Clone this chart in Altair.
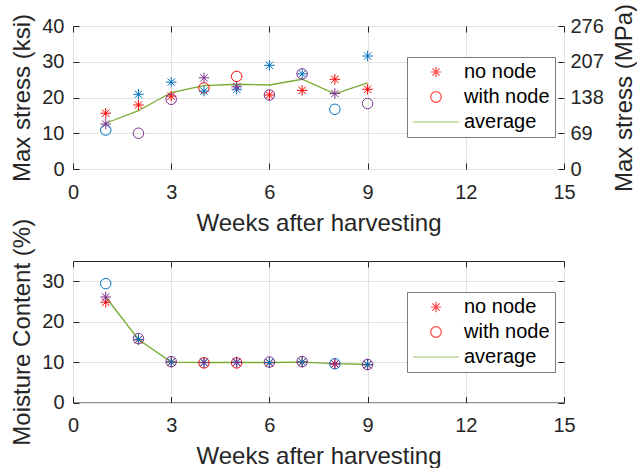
import altair as alt
import pandas as pd

# ---------------- data ----------------
weeks = [1, 2, 3, 4, 5, 6, 7, 8, 9]
samples = ["sample 1", "sample 2", "sample 3"]

# node condition of each sample per week
node_s1 = ["no node", "no node", "no node", "with node", "with node", "no node", "no node", "no node", "no node"]
node_s2 = ["with node", "no node", "no node", "no node", "no node", "no node", "no node", "with node", "no node"]
node_s3 = ["no node", "with node", "with node", "no node", "no node", "with node", "with node", "no node", "with node"]

# Max stress (ksi)
stress_s1 = [15.6, 17.9, 20.4, 22.7, 25.9, 20.7, 22.0, 25.1, 22.3]
stress_s2 = [10.9, 20.9, 24.3, 21.8, 22.3, 29.0, 26.6, 16.7, 31.6]
stress_s3 = [12.6, 10.0, 19.5, 25.5, 23.0, 20.7, 26.6, 21.1, 18.3]
stress_avg = [12.8, 16.3, 21.4, 23.3, 23.7, 23.5, 25.1, 21.0, 24.1]

# Moisture content (%)
moist_s1 = [24.8, 15.5, 10.0, 9.8, 9.8, 9.8, 10.0, 9.5, 9.3]
moist_s2 = [29.4, 15.6, 10.0, 9.9, 10.0, 9.9, 10.0, 9.6, 9.4]
moist_s3 = [26.1, 15.8, 10.1, 9.9, 9.9, 10.0, 10.1, 9.6, 9.4]
moist_avg = [26.1, 15.6, 10.0, 9.9, 9.9, 9.9, 10.0, 9.6, 9.4]

x_ticks = [0, 3, 6, 9, 12, 15]
stress_ticks = [0, 10, 20, 30, 40]
mpa_ticks = [0, 69, 138, 207, 276]
moist_ticks = [0, 10, 20, 30]
legend_labels = ["no node", "with node", "average"]

# ---------------- styles ----------------
FONT = "Liberation Sans"
TXT = "#262626"
GRID = "#e2e2e2"
RED, BLUE, PURPLE, GREEN = "#FF0000", "#0072BD", "#7E2F8E", "#77AC30"
ASTERISK = "M-1,0L1,0M0,-1L0,1M-0.7,-0.7L0.7,0.7M-0.7,0.7L0.7,-0.7"
# legend symbols (drawn in a 46px box)
L_AST = "M-0.23,0L0.23,0M0,-0.23L0,0.23M-0.16,-0.16L0.16,0.16M-0.16,0.16L0.16,-0.16"
L_CIR = "M0.23,0A0.23,0.23,0,1,1,-0.23,0A0.23,0.23,0,1,1,0.23,0Z"
L_LINE = "M-1,0L1,0"


def long_table(v1, v2, v3):
    rows = []
    for s, vals, nodes in zip(samples, [v1, v2, v3], [node_s1, node_s2, node_s3]):
        for w, v, n in zip(weeks, vals, nodes):
            rows.append({"week": w, "value": v, "sample": s, "node": n})
    return pd.DataFrame(rows)


stress_df = long_table(stress_s1, stress_s2, stress_s3)
moist_df = long_table(moist_s1, moist_s2, moist_s3)
stress_avg_df = pd.DataFrame({"week": weeks, "avg": stress_avg})
moist_avg_df = pd.DataFrame({"week": weeks, "avg": moist_avg})
legend_df = pd.DataFrame({"label": legend_labels})


def axis(orient, values, title=None, labels=True, grid=False, label_pad=8,
         title_pad=8, title_angle=None, title_baseline=None):
    kw = dict(orient=orient, values=values, offset=-6, tickSize=6, tickColor=TXT,
              tickWidth=1, domain=False, grid=grid, labels=labels, title=title)
    if grid:
        kw.update(gridColor=GRID, gridWidth=1)
    if labels:
        kw.update(labelFont=FONT, labelFontSize=20, labelColor=TXT,
                  labelPadding=label_pad, labelFlush=False)
    if title:
        kw.update(titleFont=FONT, titleFontSize=24, titleFontWeight="normal",
                  titleColor=TXT, titlePadding=title_pad)
    if title_angle is not None:
        kw["titleAngle"] = title_angle
    if title_baseline is not None:
        kw["titleBaseline"] = title_baseline
    return alt.Axis(**kw)


x_scale = alt.Scale(domain=[0, 15], nice=False)
color_pts = alt.Color("sample:N", scale=alt.Scale(domain=samples, range=[RED, BLUE, PURPLE]), legend=None)
shape_pts = alt.Shape("node:N", scale=alt.Scale(domain=["no node", "with node"], range=[ASTERISK, "circle"]), legend=None)


def legend_layer():
    leg = alt.Legend(title=None, orient="none", legendX=334, legendY=31,
                     padding=5, rowPadding=5, labelOffset=4, symbolSize=2116,
                     clipHeight=20, symbolStrokeWidth=1.2, labelFont=FONT, labelFontSize=20,
                     labelColor="#000000", strokeColor="#7a7a7a", fillColor="#ffffff",
                     cornerRadius=0)
    return alt.Chart(legend_df).transform_filter("false").mark_point(
        filled=False, strokeWidth=1.2).encode(
        shape=alt.Shape("label:N", scale=alt.Scale(domain=legend_labels, range=[L_AST, L_CIR, L_LINE]), legend=leg),
        color=alt.Color("label:N", scale=alt.Scale(domain=legend_labels, range=[RED, RED, GREEN]), legend=leg),
    )


def panel(df, avg_df, ymax, yticks, ytitle, height, right_axis=None):
    pts = alt.Chart(df).mark_point(filled=False, size=110, strokeWidth=1, opacity=1).encode(
        x=alt.X("week:Q", scale=x_scale,
                axis=axis("bottom", x_ticks, "Weeks after harvesting", grid=True, label_pad=13, title_pad=9)),
        y=alt.Y("value:Q", scale=alt.Scale(domain=[0, ymax], nice=False),
                axis=axis("left", yticks, ytitle, grid=True, label_pad=9, title_pad=7)),
        color=color_pts,
        shape=shape_pts,
    )
    line = alt.Chart(avg_df).mark_line(color=GREEN, strokeWidth=1.3).encode(
        x=alt.X("week:Q", scale=x_scale, axis=axis("top", x_ticks, labels=False)),
        y=alt.Y("avg:Q", scale=alt.Scale(domain=[0, ymax], nice=False),
                axis=(axis("right", yticks, labels=False) if right_axis is None else None)),
    )
    layers = [line, pts]
    if right_axis is not None:
        layers.append(right_axis)
    layers.append(legend_layer())
    return alt.layer(*layers).resolve_scale(
        y="independent", color="independent", shape="independent"
    ).resolve_axis(x="independent", y="independent").properties(width=491, height=height)


mpa_layer = alt.Chart(stress_avg_df).transform_calculate(mpa="datum.avg * 6.895").transform_filter(
    "false").mark_point().encode(
    y=alt.Y("mpa:Q", scale=alt.Scale(domain=[0, 276], nice=False),
            axis=axis("right", mpa_ticks, "Max stress (MPa)", label_pad=6, title_pad=9,
                      title_angle=270, title_baseline="top")),
)

top = panel(stress_df, stress_avg_df, 40, stress_ticks, "Max stress (ksi)", 143, right_axis=mpa_layer)
bottom = panel(moist_df, moist_avg_df, 35, moist_ticks, "Moisture Content (%)", 141.5)

chart = alt.vconcat(top, bottom, spacing=92, bounds="flush").properties(
    padding={"left": 10, "top": 2, "right": 0, "bottom": 0},
    background="white",
).configure_view(stroke=TXT, strokeWidth=1)

chart.save("out.html", embed_options={"renderer": "svg", "actions": False})
